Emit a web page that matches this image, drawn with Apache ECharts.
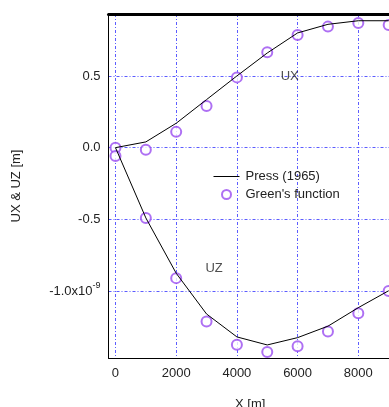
<!DOCTYPE html>
<html>
<head>
<meta charset="utf-8">
<script src="https://cdn.jsdelivr.net/npm/echarts@6/dist/echarts.min.js"></script>
<style>
  html, body { margin: 0; padding: 0; background: #fff; }
  #chart { width: 389px; height: 407px; }
</style>
</head>
<body>
<div id="chart"></div>
<script>
// distance along X [m]
var xPos = [0, 1000, 2000, 3000, 4000, 5000, 6000, 7000, 8000, 9000];

// displacements in units of 1e-9 m
var uxPress = [0.0, 0.04, 0.17, 0.335, 0.50, 0.66, 0.80, 0.86, 0.885, 0.885];
var uzPress = [0.0, -0.49, -0.876, -1.16, -1.32, -1.376, -1.325, -1.245, -1.116, -0.998];
var uxGreen = [0.0, -0.015, 0.11, 0.29, 0.49, 0.665, 0.786, 0.844, 0.87, 0.856];
var uzGreen = [-0.058, -0.49, -0.91, -1.213, -1.374, -1.425, -1.385, -1.283, -1.155, -1.0];

var xTicks = [0, 2000, 4000, 6000, 8000];
var yTicks = [0.5, 0.0, -0.5, -1.0];

// curve names written on the plot
var curveLabels = [
  { name: 'UX', x: 5740, y: 0.5 },
  { name: 'UZ', x: 3250, y: -0.84 }
];

function pairs(xs, ys) {
  return xs.map(function (x, i) { return [x, ys[i]]; });
}

var font = 'Liberation Sans, Arial, sans-serif';
var gridStyle = { color: '#5c5cff', width: 1, type: [3, 2, 1, 2] };
var purple = '#9a4cf0';

var chart = echarts.init(document.getElementById('chart'));

chart.setOption({
  animation: false,
  textStyle: { fontFamily: font },
  grid: { left: 108.5, top: 14, right: -3, bottom: 49, containLabel: false, outerBoundsMode: 'none' },
  legend: {
    left: 208, top: 165, orient: 'vertical',
    itemWidth: 26, itemHeight: 9, itemGap: 5,
    textStyle: { fontSize: 13, color: '#222', fontFamily: font, padding: [0, 0, 0, 1] },
    data: [
      { name: 'Press (1965)', itemStyle: { opacity: 0 }, lineStyle: { width: 1 } },
      { name: "Green's function", icon: 'emptyCircle' }
    ]
  },
  xAxis: [{
    type: 'value', min: -230, max: 9110,
    name: 'X [m]', nameLocation: 'middle', nameGap: 40,
    nameTextStyle: { fontSize: 13, color: '#222', fontFamily: font },
    axisLine: { onZero: false, lineStyle: { color: '#000', width: 1 } },
    axisTick: { show: true, length: 0, customValues: xTicks },
    axisLabel: {
      customValues: xTicks, margin: 9, fontSize: 13, color: '#222', fontFamily: font,
      formatter: function (v) { return String(v); }
    },
    splitLine: { show: true, lineStyle: gridStyle }
  }, {
    type: 'value', position: 'top', min: -230, max: 9110,
    axisLine: { onZero: false, lineStyle: { color: '#000', width: 3 } },
    axisTick: { show: false }, axisLabel: { show: false }, splitLine: { show: false }
  }],
  yAxis: {
    type: 'value', min: -1.467, max: 0.932,
    name: 'UX & UZ [m]', nameLocation: 'middle', nameGap: 86,
    nameTextStyle: { fontSize: 13, color: '#222', fontFamily: font },
    axisLine: { show: true, onZero: false, lineStyle: { color: '#000', width: 1 } },
    axisTick: { show: true, length: 0, customValues: yTicks },
    axisLabel: {
      customValues: yTicks, margin: 8, fontSize: 13, color: '#222', fontFamily: font,
      formatter: function (v) {
        if (Math.abs(v + 1) < 1e-6) return '-1.0x10{sup|-9}';
        return v.toFixed(1);
      },
      rich: { sup: { fontSize: 9, color: '#222', fontFamily: font, padding: [0, 0, 12, 0] } }
    },
    splitLine: { show: true, lineStyle: gridStyle }
  },
  series: [{
    name: 'Press (1965)', type: 'line', symbol: 'none',
    lineStyle: { color: '#000', width: 1 }, itemStyle: { color: '#000' },
    data: pairs(xPos, uxPress)
  }, {
    name: 'Press (1965)', type: 'line', symbol: 'none',
    lineStyle: { color: '#000', width: 1 }, itemStyle: { color: '#000' },
    data: pairs(xPos, uzPress)
  }, {
    name: "Green's function", type: 'scatter', symbol: 'emptyCircle', symbolSize: 10,
    itemStyle: { color: purple, borderColor: purple, borderWidth: 1 },
    data: pairs(xPos, uxGreen)
  }, {
    name: "Green's function", type: 'scatter', symbol: 'emptyCircle', symbolSize: 10,
    itemStyle: { color: purple, borderColor: purple, borderWidth: 1 },
    data: pairs(xPos, uzGreen)
  }, {
    type: 'scatter', symbolSize: 0, silent: true,
    label: {
      show: true, position: 'inside', fontSize: 13, color: '#222', fontFamily: font,
      formatter: function (p) { return p.data.label; }
    },
    data: curveLabels.map(function (c) { return { value: [c.x, c.y], label: c.name }; })
  }]
});
</script>
</body>
</html>
